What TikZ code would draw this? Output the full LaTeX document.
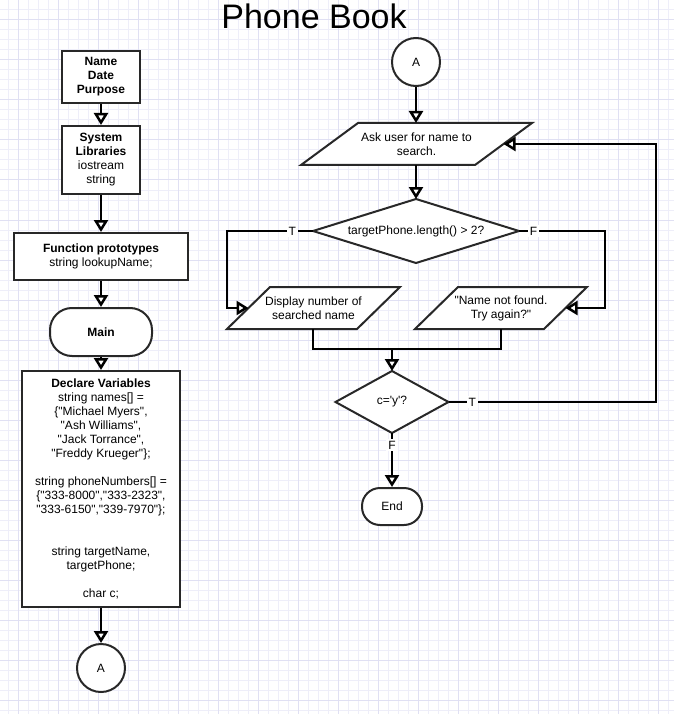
\documentclass[tikz,border=0pt]{standalone}
\usepackage{fontspec}
\newfontfamily\arial{Liberation Sans}
\usetikzlibrary{arrows.meta}
\definecolor{gridminor}{RGB}{238,238,249}
\definecolor{gridmajor}{RGB}{224,224,243}
\definecolor{edge}{RGB}{40,40,40}
\begin{document}
\begin{tikzpicture}[x=1pt,y=-1pt,
  every node/.style={font=\arial\fontsize{12}{14}\selectfont, text=black},
  box/.style={draw=edge, line width=2pt, fill=white, align=center, inner sep=0pt},
  term/.style={box, rounded corners=#1},
  circ/.style={draw=edge, line width=2pt, fill=white, circle, inner sep=0pt, minimum size=48pt},
  shp/.style={draw=edge, line width=2pt, fill=white, line join=miter},
  txt/.style={align=center, inner sep=0pt},
  line/.style={line width=2.5pt, black},
  conn/.style={line, -{Triangle[length=12pt,width=14pt,fill=white]}},
  lbl/.style={fill=white, inner sep=2pt}]
\useasboundingbox (0,0) rectangle (674,714);
\fill[white] (0,0) rectangle (674,714);
\foreach \x in {8,18,...,668} {\draw[gridminor, line width=1pt] (\x,0) -- (\x,714);}
\foreach \y in {10,20,...,710} {\draw[gridminor, line width=1pt] (0,\y) -- (674,\y);}
\foreach \x in {18,58,...,658} {\draw[gridmajor, line width=1pt] (\x,0) -- (\x,714);}
\foreach \y in {20,60,...,700} {\draw[gridmajor, line width=1pt] (0,\y) -- (674,\y);}

% title
\node[font=\arial\fontsize{34}{40}\selectfont, anchor=base] (title) at (314,29) {Phone Book};

% left column
\node[box, minimum width=78pt, minimum height=52pt] (n1) at (101,77) {\bfseries Name\\\bfseries Date\\\bfseries Purpose};
\node[box, minimum width=78pt, minimum height=68pt] (n2) at (101,160) {\bfseries System\\\bfseries Libraries\\iostream\\string};
\node[box, minimum width=174pt, minimum height=47pt] (n3) at (101,256.5) {\bfseries Function prototypes\\string lookupName;};
\node[term=22pt, minimum width=102pt, minimum height=48pt] (main) at (101,332) {\bfseries Main};
\node[box, minimum width=158pt, minimum height=236pt] (decl) at (101,489) {\bfseries Declare Variables\\string names[] =\\\{"Michael Myers",\\ "Ash Williams",\\"Jack Torrance",\\"Freddy Krueger"\};\\[14pt]string phoneNumbers[] =\\\{"333-8000","333-2323",\\"333-6150","339-7970"\};\\[28pt]string targetName,\\targetPhone;\\[14pt]char c;};
\node[circ] (a1) at (101,668) {A};

\draw[conn] (n1) -- (n2);
\draw[conn] (n2) -- (n3);
\draw[conn] (n3) -- (main);
\draw[conn] (main) -- (decl);
\draw[conn] (decl) -- (a1);

% right column
\node[circ] (a2) at (416,62) {A};

\draw[shp] (358,123) -- (532,123) -- (475,165) -- (301,165) -- cycle;
\node[txt] (ask) at (416.5,144) {Ask user for name to\\search.};
\coordinate (askN) at (416,123);
\coordinate (askS) at (416,165);
\coordinate (askE) at (503.5,144);

\draw[shp] (416,199) -- (519,231) -- (416,263) -- (313,231) -- cycle;
\node[txt] (d1) at (416,231) {targetPhone.length() > 2?};
\coordinate (d1N) at (416,199);
\coordinate (d1W) at (313,231);
\coordinate (d1E) at (519,231);

\draw[shp] (270,287) -- (400,287) -- (357,329) -- (227,329) -- cycle;
\node[txt] (disp) at (313.5,308) {Display number of\\searched name};
\coordinate (dispW) at (248.5,308);
\coordinate (dispS) at (313,329);

\draw[shp] (458,287) -- (587,287) -- (544,329) -- (415,329) -- cycle;
\node[txt] (nf) at (501,308) {"Name not found.\\ Try again?"};
\coordinate (nfE) at (565.5,308);
\coordinate (nfS) at (501,329);

\draw[shp] (392,371) -- (448.5,402) -- (392,433) -- (335.5,402) -- cycle;
\node[txt] (d2) at (392,402) {c='y'?};
\coordinate (d2N) at (392,371);
\coordinate (d2E) at (448.5,402);
\coordinate (d2S) at (392,433);

\node[term=18pt, minimum width=60pt, minimum height=37pt] (end) at (392,506.5) {End};

\coordinate (tl1) at (227,231);
\coordinate (tl2) at (227,308);
\coordinate (fr1) at (605,231);
\coordinate (fr2) at (605,308);
\coordinate (mgL) at (313,349);
\coordinate (mgR) at (501,349);
\coordinate (mg) at (392,349);
\coordinate (lp1) at (656,402);
\coordinate (lp2) at (656,144);

\draw[conn] (a2) -- (askN);
\draw[conn] (askS) -- (d1N);
\draw[conn] (d1W) -- node[lbl, pos=0.24] {T} (tl1) -- (tl2) -- (dispW);
\draw[conn] (d1E) -- node[lbl, pos=0.17] {F} (fr1) -- (fr2) -- (nfE);
\draw[line] (dispS) -- (mgL) -- (mgR) -- (nfS);
\draw[conn] (mg) -- (d2N);
\draw[conn] (d2E) -- node[lbl, pos=0.115] {T} (lp1) -- (lp2) -- (askE);
\draw[conn] (d2S) -- node[lbl, pos=0.22] {F} (end);
\end{tikzpicture}
\end{document}
